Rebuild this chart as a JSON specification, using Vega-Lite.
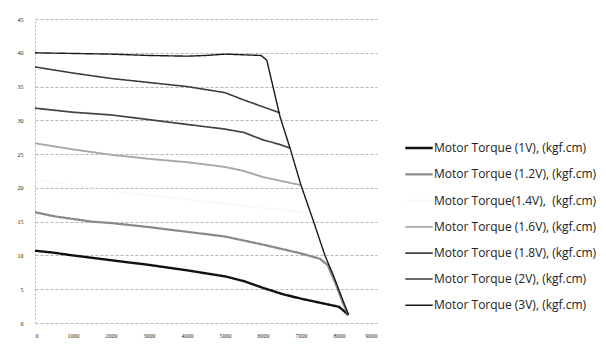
{
  "$schema": "https://vega.github.io/schema/vega-lite/v6.json",
  "autosize": "none",
  "width": 342,
  "height": 304,
  "padding": {"left": 35, "top": 19, "right": 229, "bottom": 22},
  "background": "white",
  "config": {
    "view": {"stroke": null},
    "axis": {"labelFont": "Liberation Serif", "labelFontSize": 6, "labelColor": "#222", "ticks": false, "title": null}
  },
  "data": {"values": [
    {"s": "1V", "rpm": 0, "t": 10.7}, {"s": "1V", "rpm": 500, "t": 10.4}, {"s": "1V", "rpm": 1000, "t": 10.0}, {"s": "1V", "rpm": 2000, "t": 9.3}, {"s": "1V", "rpm": 3000, "t": 8.6}, {"s": "1V", "rpm": 4000, "t": 7.8}, {"s": "1V", "rpm": 5000, "t": 6.9}, {"s": "1V", "rpm": 5500, "t": 6.2}, {"s": "1V", "rpm": 6000, "t": 5.2}, {"s": "1V", "rpm": 6500, "t": 4.3}, {"s": "1V", "rpm": 7000, "t": 3.6}, {"s": "1V", "rpm": 7500, "t": 3.0}, {"s": "1V", "rpm": 8000, "t": 2.4}, {"s": "1V", "rpm": 8250, "t": 1.2},
    {"s": "1.2V", "rpm": 0, "t": 16.4}, {"s": "1.2V", "rpm": 500, "t": 15.8}, {"s": "1.2V", "rpm": 1000, "t": 15.4}, {"s": "1.2V", "rpm": 1500, "t": 15.0}, {"s": "1.2V", "rpm": 2000, "t": 14.8}, {"s": "1.2V", "rpm": 3000, "t": 14.2}, {"s": "1.2V", "rpm": 4000, "t": 13.5}, {"s": "1.2V", "rpm": 5000, "t": 12.8}, {"s": "1.2V", "rpm": 6000, "t": 11.6}, {"s": "1.2V", "rpm": 7000, "t": 10.3}, {"s": "1.2V", "rpm": 7500, "t": 9.5}, {"s": "1.2V", "rpm": 7700, "t": 8.6}, {"s": "1.2V", "rpm": 7900, "t": 6.0}, {"s": "1.2V", "rpm": 8100, "t": 3.0}, {"s": "1.2V", "rpm": 8250, "t": 1.2},
    {"s": "1.4V", "rpm": 0, "t": 21.3}, {"s": "1.4V", "rpm": 1000, "t": 20.4}, {"s": "1.4V", "rpm": 2000, "t": 19.6}, {"s": "1.4V", "rpm": 3000, "t": 18.9}, {"s": "1.4V", "rpm": 4000, "t": 18.3}, {"s": "1.4V", "rpm": 5000, "t": 17.7}, {"s": "1.4V", "rpm": 6000, "t": 17.0}, {"s": "1.4V", "rpm": 7000, "t": 16.5}, {"s": "1.4V", "rpm": 7230, "t": 16.3},
    {"s": "1.6V", "rpm": 0, "t": 26.6}, {"s": "1.6V", "rpm": 1000, "t": 25.7}, {"s": "1.6V", "rpm": 2000, "t": 24.9}, {"s": "1.6V", "rpm": 3000, "t": 24.3}, {"s": "1.6V", "rpm": 4000, "t": 23.8}, {"s": "1.6V", "rpm": 5000, "t": 23.1}, {"s": "1.6V", "rpm": 5500, "t": 22.5}, {"s": "1.6V", "rpm": 6000, "t": 21.6}, {"s": "1.6V", "rpm": 6500, "t": 21.0}, {"s": "1.6V", "rpm": 7000, "t": 20.4},
    {"s": "1.8V", "rpm": 0, "t": 31.8}, {"s": "1.8V", "rpm": 1000, "t": 31.2}, {"s": "1.8V", "rpm": 2000, "t": 30.8}, {"s": "1.8V", "rpm": 3000, "t": 30.1}, {"s": "1.8V", "rpm": 4000, "t": 29.4}, {"s": "1.8V", "rpm": 5000, "t": 28.7}, {"s": "1.8V", "rpm": 5500, "t": 28.2}, {"s": "1.8V", "rpm": 6000, "t": 27.1}, {"s": "1.8V", "rpm": 6400, "t": 26.5}, {"s": "1.8V", "rpm": 6710, "t": 25.9},
    {"s": "2V", "rpm": 0, "t": 37.9}, {"s": "2V", "rpm": 1000, "t": 37.0}, {"s": "2V", "rpm": 2000, "t": 36.2}, {"s": "2V", "rpm": 3000, "t": 35.6}, {"s": "2V", "rpm": 4000, "t": 35.0}, {"s": "2V", "rpm": 5000, "t": 34.1}, {"s": "2V", "rpm": 5500, "t": 33.0}, {"s": "2V", "rpm": 6000, "t": 32.0}, {"s": "2V", "rpm": 6450, "t": 31.1},
    {"s": "3V", "rpm": 0, "t": 40.0}, {"s": "3V", "rpm": 1000, "t": 39.9}, {"s": "3V", "rpm": 2000, "t": 39.8}, {"s": "3V", "rpm": 3000, "t": 39.6}, {"s": "3V", "rpm": 4000, "t": 39.5}, {"s": "3V", "rpm": 4500, "t": 39.6}, {"s": "3V", "rpm": 5000, "t": 39.8}, {"s": "3V", "rpm": 5500, "t": 39.7}, {"s": "3V", "rpm": 5950, "t": 39.6}, {"s": "3V", "rpm": 6100, "t": 38.9}, {"s": "3V", "rpm": 6450, "t": 30.5}, {"s": "3V", "rpm": 6710, "t": 25.9}, {"s": "3V", "rpm": 7000, "t": 20.4}, {"s": "3V", "rpm": 7320, "t": 15.2}, {"s": "3V", "rpm": 7630, "t": 10.0}, {"s": "3V", "rpm": 7840, "t": 7.2}, {"s": "3V", "rpm": 8250, "t": 1.2}
  ]},
  "mark": {"type": "line", "interpolate": "linear"},
  "encoding": {
    "x": {"field": "rpm", "type": "quantitative", "scale": {"domain": [0, 9000], "nice": false},
      "axis": {"values": [0, 1000, 2000, 3000, 4000, 5000, 6000, 7000, 8000, 9000], "format": "d", "grid": false, "domain": false, "labelPadding": 9}},
    "y": {"field": "t", "type": "quantitative", "scale": {"domain": [0, 45], "nice": false},
      "axis": {"values": [0, 5, 10, 15, 20, 25, 30, 35, 40, 45], "grid": true, "gridColor": "#b5b5b5", "gridDash": [3, 2], "gridWidth": 1, "domainColor": "#b5b5b5", "domainDash": [2, 2], "labelPadding": 12}},
    "color": {"field": "s", "type": "nominal",
      "scale": {"domain": ["1V", "1.2V", "1.4V", "1.6V", "1.8V", "2V", "3V"], "range": ["#111111", "#8a8a8a", "#ececec", "#a8a8a8", "#444444", "#3a3a3a", "#1a1a1a"]},
      "legend": {"title": null, "orient": "none", "legendX": 369, "legendY": 114, "symbolType": "stroke", "symbolSize": 750, "labelFont": "Open Sans", "labelFontSize": 12, "labelColor": "#222", "labelLimit": 230, "rowPadding": 5.3, "labelOffset": 0, "padding": 0,
        "labelExpr": "datum.label == '1.4V' ? 'Motor Torque(1.4V),\u00a0\u00a0(kgf.cm)' : 'Motor Torque (' + datum.label + '), (kgf.cm)'"}},
    "strokeWidth": {"field": "s", "type": "nominal",
      "scale": {"domain": ["1V", "1.2V", "1.4V", "1.6V", "1.8V", "2V", "3V"], "range": [2.4, 1.4, 1, 1.2, 1.6, 1.6, 2]}, "legend": null},
    "strokeDash": {"field": "s", "type": "nominal",
      "scale": {"domain": ["1V", "1.2V", "1.4V", "1.6V", "1.8V", "2V", "3V"], "range": [[1, 0], [1, 0], [1, 2], [1, 0], [1, 0], [1, 0], [1, 0]]}, "legend": null}
  }
}
